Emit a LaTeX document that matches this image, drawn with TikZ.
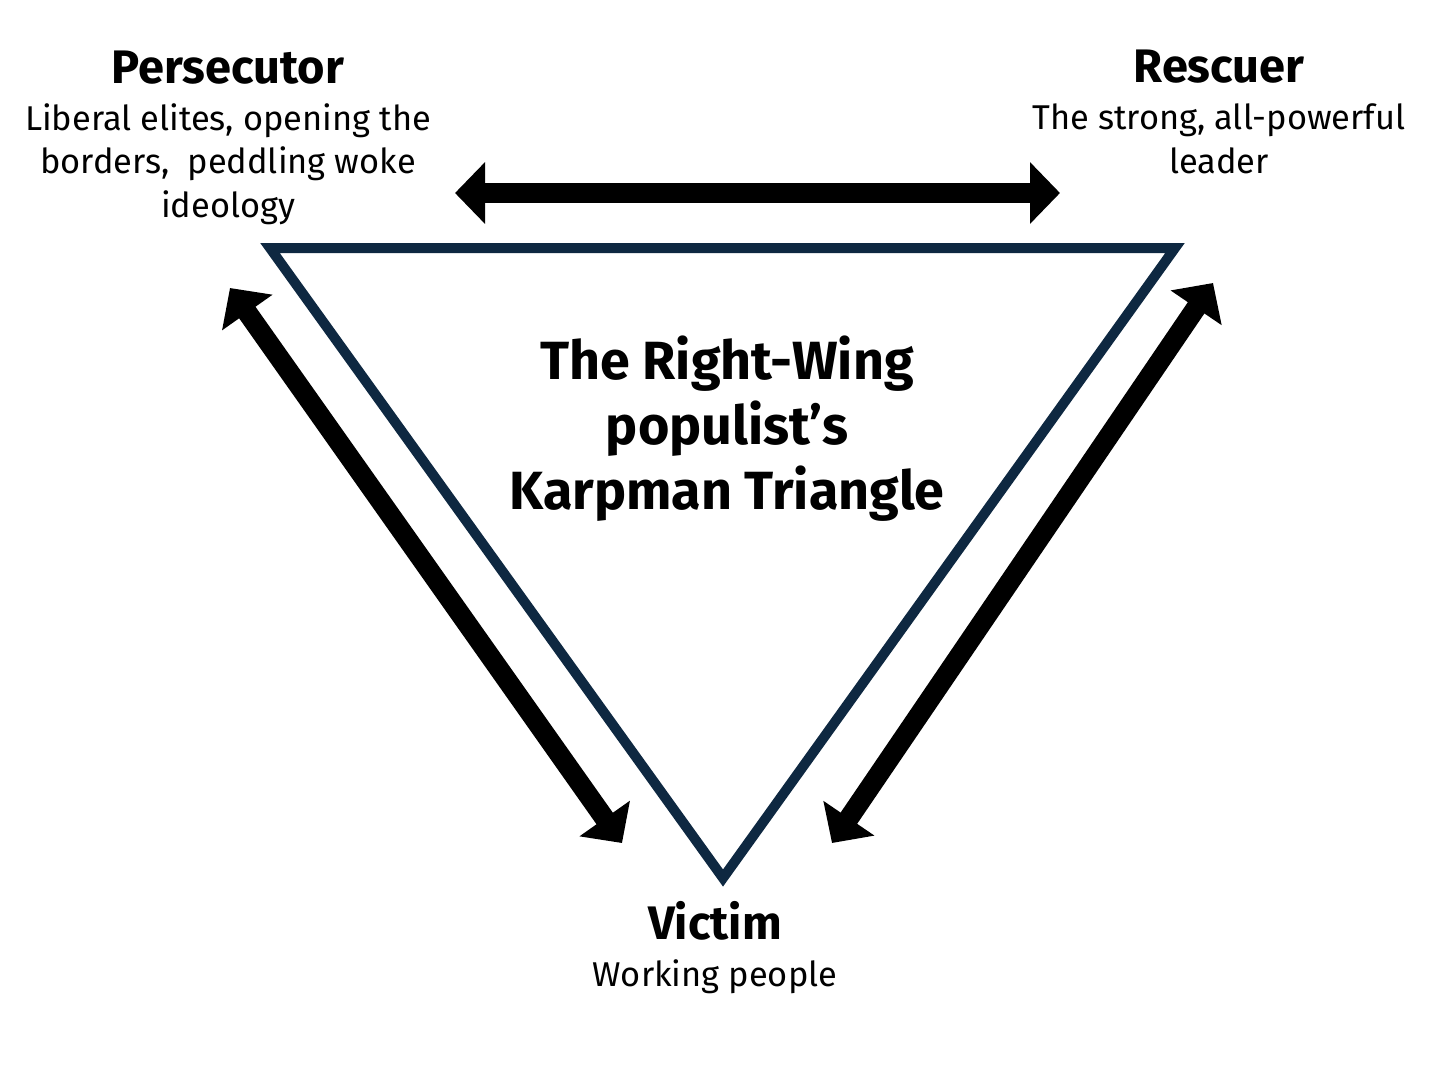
\documentclass[tikz,border=0pt]{standalone}
\usepackage{fontspec}
\setmainfont{Fira Sans}
\usetikzlibrary{arrows.meta}
\definecolor{navy}{HTML}{0E2841}
\tikzset{
  heading/.style={font=\bfseries\fontsize{23.5pt}{28pt}\selectfont, inner sep=0pt, anchor=base},
  body/.style={font=\fontsize{17.2pt}{21.75pt}\selectfont, align=center, inner sep=0pt, anchor=base},
  titletext/.style={font=\bfseries\fontsize{26.9pt}{32.5pt}\selectfont, align=center, inner sep=0pt, anchor=base},
  blockarrow/.style={draw=black, line width=10pt,
    {Triangle[length=15pt,width=30pt]}-{Triangle[length=15pt,width=30pt]}},
  tri/.style={draw=navy, line width=5pt, line join=miter, miter limit=10}
}
\begin{document}
\begin{tikzpicture}[x=0.5pt,y=-0.5pt]
\useasboundingbox (0,0) rectangle (1456,1084);
% triangle
\coordinate (tl) at (270,248);
\coordinate (tr) at (1175,248);
\coordinate (bt) at (723,878);
\draw[tri] (tl) -- (tr) -- (bt) -- cycle;
% arrow end points
\coordinate (hl) at (455,193);
\coordinate (hr) at (1060,193);
\coordinate (lt) at (230,288);
\coordinate (lb) at (622,843);
\coordinate (rt) at (1213,283);
\coordinate (rb) at (832,843);
\draw[blockarrow] (hl) -- (hr);
\draw[blockarrow] (lt) -- (lb);
\draw[blockarrow] (rt) -- (rb);
% texts (base anchor of multi-line nodes = last line baseline)
\node[heading] (pers) at (228,83) {Persecutor};
\node[body] (persd) at (228,217) {Liberal elites, opening the\\borders,\ \ peddling woke\\ideology};
\node[heading] (resc) at (1219,82) {Rescuer};
\node[body] (rescd) at (1219,173) {The strong, all-powerful\\leader};
\node[titletext] (title) at (727,509) {The Right-Wing\\populist’s\\Karpman Triangle};
\node[heading] (vict) at (715,939) {Victim};
\node[body] (victd) at (715,986) {Working people};
\end{tikzpicture}
\end{document}
